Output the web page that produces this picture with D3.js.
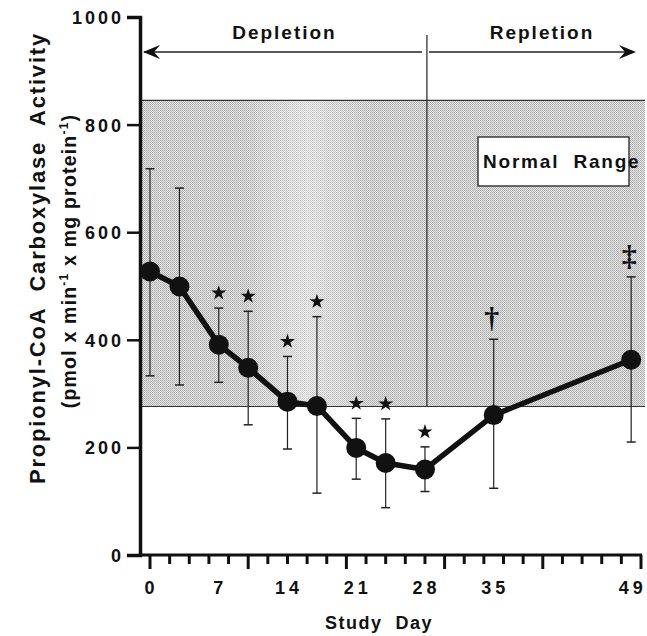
<!DOCTYPE html>
<html>
<head>
<meta charset="utf-8">
<style>
  body { margin: 0; background: #fff; }
  svg { display: block; }
  .lbl { font-family: "Liberation Sans", Arial, sans-serif; font-weight: bold; fill: #111; }
  .axis path, .axis line { stroke: #111; }
</style>
</head>
<body>
<script src="https://cdnjs.cloudflare.com/ajax/libs/d3/7.8.5/d3.min.js"></script>
<script>
// study days and mean activity (pmol x min-1 x mg protein-1)
var days  = [0, 3, 7, 10, 14, 17, 21, 24, 28, 35, 49];
var means = [527, 499, 391, 348, 285, 277, 199, 171, 159, 260, 363];
var upper = [718, 682, 459, 453, 369, 443, 254, 253, 201, 401, 517];
var lower = [333, 316, 321, 242, 197, 115, 141, 88, 118, 124, 210];
var marks = ["", "", "*", "*", "*", "*", "*", "*", "*", "\u2020", "\u2021"];

var normalRange = [276, 845];
var phaseSplit = 28.2;
var phases = ["Depletion", "Repletion"];

var yTicks = [0, 200, 400, 600, 800, 1000];
var xLabels = [0, 7, 14, 21, 28, 35, 49];
var xTickDays = d3.range(0, 51, 2);

var W = 647, H = 636;
var x = d3.scaleLinear().domain([0, 50]).range([150, 641]);
var y = d3.scaleLinear().domain([0, 1000]).range([555, 17]);
var axisX = 140;

var svg = d3.select("body").append("svg")
  .attr("width", W).attr("height", H);

// dither pattern for the normal range band
var defs = svg.append("defs");
var pat = defs.append("pattern").attr("id", "dither")
  .attr("width", 2).attr("height", 2).attr("patternUnits", "userSpaceOnUse");
pat.append("rect").attr("width", 2).attr("height", 2).attr("fill", "#e4e4e4");
pat.append("rect").attr("width", 1).attr("height", 1).attr("fill", "#ababab");
pat.append("rect").attr("x", 1).attr("y", 1).attr("width", 1).attr("height", 1).attr("fill", "#b8b8b8");

var fade = defs.append("linearGradient").attr("id", "fade")
  .attr("x1", 0).attr("x2", 1).attr("y1", 0).attr("y2", 0);
fade.append("stop").attr("offset", "0").attr("stop-color", "#fff").attr("stop-opacity", 0);
fade.append("stop").attr("offset", "0.2").attr("stop-color", "#fff").attr("stop-opacity", 0);
fade.append("stop").attr("offset", "0.33").attr("stop-color", "#fff").attr("stop-opacity", 0.4);
fade.append("stop").attr("offset", "0.46").attr("stop-color", "#fff").attr("stop-opacity", 0);
fade.append("stop").attr("offset", "1").attr("stop-color", "#fff").attr("stop-opacity", 0);

// normal range band
var bandX0 = axisX, bandX1 = 645;
svg.append("rect")
  .attr("x", bandX0).attr("y", y(normalRange[1]))
  .attr("width", bandX1 - bandX0).attr("height", y(normalRange[0]) - y(normalRange[1]))
  .attr("fill", "url(#dither)");
svg.append("rect")
  .attr("x", bandX0).attr("y", y(normalRange[1]))
  .attr("width", bandX1 - bandX0).attr("height", y(normalRange[0]) - y(normalRange[1]))
  .attr("fill", "url(#fade)");
svg.append("line")
  .attr("x1", bandX0).attr("x2", bandX1)
  .attr("y1", y(normalRange[1])).attr("y2", y(normalRange[1]))
  .attr("stroke", "#333").attr("stroke-width", 1.2);
svg.append("line")
  .attr("x1", bandX0).attr("x2", bandX1)
  .attr("y1", y(normalRange[0])).attr("y2", y(normalRange[0]))
  .attr("stroke", "#333").attr("stroke-width", 1.2);

// phase divider and arrows
var xs = x(phaseSplit);
svg.append("line")
  .attr("x1", xs).attr("x2", xs).attr("y1", 35).attr("y2", y(normalRange[0]))
  .attr("stroke", "#222").attr("stroke-width", 1.2);
var arrowY = 52;
svg.append("line").attr("x1", axisX + 4).attr("x2", xs - 5)
  .attr("y1", arrowY).attr("y2", arrowY).attr("stroke", "#222").attr("stroke-width", 1.3);
svg.append("line").attr("x1", xs + 2).attr("x2", 633)
  .attr("y1", arrowY).attr("y2", arrowY).attr("stroke", "#222").attr("stroke-width", 1.3);
svg.append("path")
  .attr("d", "M" + (axisX + 3) + "," + arrowY + " l17,-7 l-6,7 l6,7 z").attr("fill", "#111");
svg.append("path")
  .attr("d", "M636," + arrowY + " l-17,-7 l6,7 l-6,7 z").attr("fill", "#111");
svg.append("text").attr("class", "lbl")
  .attr("x", (axisX + xs) / 2 + 1).attr("y", 39)
  .attr("text-anchor", "middle").style("font-size", "19px").style("letter-spacing", "2px")
  .text(phases[0]);
svg.append("text").attr("class", "lbl")
  .attr("x", 542).attr("y", 39)
  .attr("text-anchor", "middle").style("font-size", "19px").style("letter-spacing", "2px")
  .text(phases[1]);

// normal range box
svg.append("rect")
  .attr("x", 478).attr("y", 137).attr("width", 151).attr("height", 49)
  .attr("fill", "#fff").attr("stroke", "#222").attr("stroke-width", 1.3);
svg.append("text").attr("class", "lbl")
  .attr("x", 483).attr("y", 168)
  .style("font-size", "19px").style("letter-spacing", "1.8px").style("white-space", "pre")
  .text("Normal  Range");

// y axis
var yAxis = svg.append("g").attr("class", "axis")
  .attr("transform", "translate(" + axisX + ",0)")
  .call(d3.axisLeft(y).tickValues(yTicks).tickSize(13).tickPadding(3).tickFormat(d3.format("d")));
yAxis.select(".domain").attr("stroke-width", 3.5);
yAxis.selectAll(".tick line").attr("stroke-width", 2.5);
yAxis.selectAll(".tick text")
  .attr("class", "lbl").style("font-size", "18px").style("letter-spacing", "3px")
  .attr("fill", "#111").attr("dy", "0.36em");

// x axis: baseline and ticks
svg.append("line")
  .attr("x1", axisX - 1).attr("x2", x(50) + 1)
  .attr("y1", y(0)).attr("y2", y(0))
  .attr("stroke", "#111").attr("stroke-width", 3);
svg.selectAll(".xtick").data(xTickDays).enter().append("line")
  .attr("class", "xtick")
  .attr("x1", function(d) { return x(d); }).attr("x2", function(d) { return x(d); })
  .attr("y1", y(0))
  .attr("y2", function(d) { return d % 10 === 0 ? y(0) + 14 : y(0) + 9; })
  .attr("stroke", "#111").attr("stroke-width", 3);

var xAxis = svg.append("g").attr("class", "axis")
  .attr("transform", "translate(0," + y(0) + ")")
  .call(d3.axisBottom(x).tickValues(xLabels).tickSize(0).tickPadding(26).tickFormat(d3.format("d")));
xAxis.select(".domain").remove();
xAxis.selectAll(".tick text")
  .attr("class", "lbl").style("font-size", "18px").style("letter-spacing", "4px")
  .attr("fill", "#111").attr("dx", "1px");

svg.append("text").attr("class", "lbl")
  .attr("x", 379).attr("y", 629).attr("text-anchor", "middle")
  .style("font-size", "18px").style("letter-spacing", "1.5px").style("white-space", "pre")
  .text("Study  Day");

// y axis title
svg.append("text").attr("class", "lbl")
  .attr("transform", "translate(45,258) rotate(-90)")
  .attr("text-anchor", "middle")
  .style("font-size", "22px").style("letter-spacing", "1.8px").style("white-space", "pre")
  .text("Propionyl-CoA  Carboxylase  Activity");
var yt2 = svg.append("text").attr("class", "lbl")
  .attr("transform", "translate(76,261) rotate(-90)")
  .attr("text-anchor", "middle")
  .style("font-size", "19.5px").style("letter-spacing", "1.2px").style("white-space", "pre");
yt2.append("tspan").text("(pmol x min");
yt2.append("tspan").attr("dy", -8).style("font-size", "12px").text("-1");
yt2.append("tspan").attr("dy", 8).text(" x mg protein");
yt2.append("tspan").attr("dy", -8).style("font-size", "12px").text("-1");
yt2.append("tspan").attr("dy", 8).text(")");

// error bars
var pts = days.map(function(d, i) {
  return { day: d, mean: means[i], hi: upper[i], lo: lower[i], mark: marks[i] };
});
var eb = svg.append("g");
eb.selectAll(".stem").data(pts).enter().append("line")
  .attr("x1", function(d) { return x(d.day); }).attr("x2", function(d) { return x(d.day); })
  .attr("y1", function(d) { return y(d.hi); }).attr("y2", function(d) { return y(d.lo); })
  .attr("stroke", "#222").attr("stroke-width", 1.2);
eb.selectAll(".capHi").data(pts).enter().append("line")
  .attr("x1", function(d) { return x(d.day) - 4.5; }).attr("x2", function(d) { return x(d.day) + 4.5; })
  .attr("y1", function(d) { return y(d.hi); }).attr("y2", function(d) { return y(d.hi); })
  .attr("stroke", "#222").attr("stroke-width", 1.5);
eb.selectAll(".capLo").data(pts).enter().append("line")
  .attr("x1", function(d) { return x(d.day) - 4.5; }).attr("x2", function(d) { return x(d.day) + 4.5; })
  .attr("y1", function(d) { return y(d.lo); }).attr("y2", function(d) { return y(d.lo); })
  .attr("stroke", "#222").attr("stroke-width", 1.5);

// mean line and points
svg.append("path").datum(pts)
  .attr("d", d3.line().x(function(d) { return x(d.day); }).y(function(d) { return y(d.mean); }))
  .attr("fill", "none").attr("stroke", "#111").attr("stroke-width", 5.5)
  .attr("stroke-linejoin", "round");
svg.selectAll(".pt").data(pts).enter().append("circle")
  .attr("cx", function(d) { return x(d.day); }).attr("cy", function(d) { return y(d.mean); })
  .attr("r", 10).attr("fill", "#111");

// significance marks
var star = d3.symbol().type(d3.symbolStar).size(70);
svg.selectAll(".star").data(pts.filter(function(d) { return d.mark === "*"; })).enter()
  .append("path")
  .attr("d", star)
  .attr("transform", function(d) { return "translate(" + x(d.day) + "," + (y(d.hi) - 15) + ")"; })
  .attr("fill", "#111");
svg.selectAll(".dag").data(pts.filter(function(d) { return d.mark !== "*" && d.mark !== ""; })).enter()
  .append("text")
  .attr("x", function(d) { return x(d.day) - 2; })
  .attr("y", function(d) { return y(d.hi) - 11; })
  .attr("text-anchor", "middle")
  .style("font-family", "'Liberation Serif', 'DejaVu Serif', serif")
  .style("font-weight", "bold").style("font-size", "30px")
  .attr("fill", "#111")
  .text(function(d) { return d.mark; });
</script>
</body>
</html>
